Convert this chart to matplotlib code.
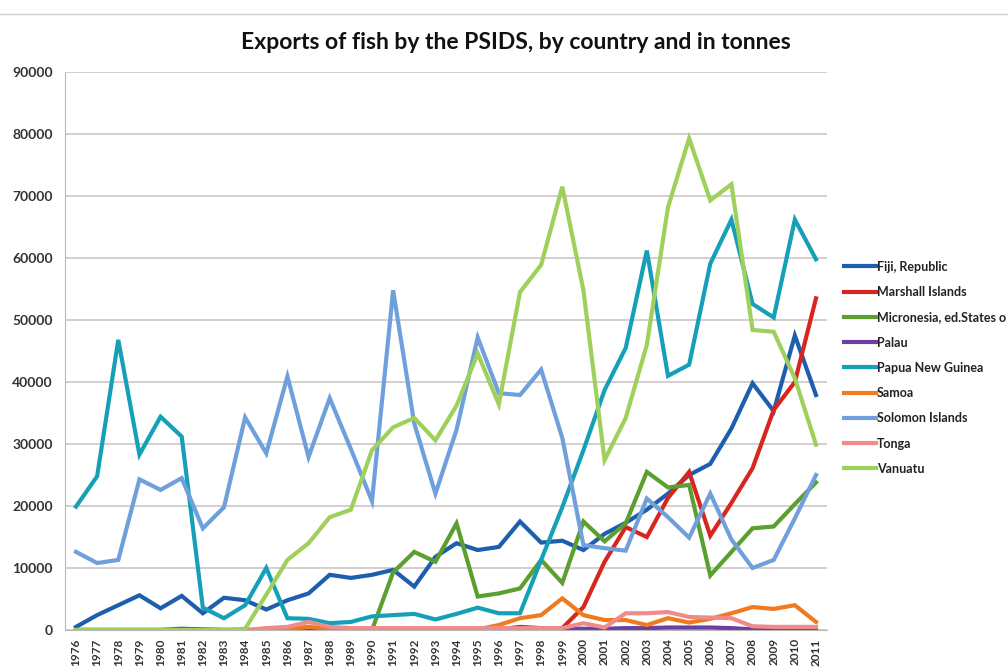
import matplotlib.pyplot as plt
from matplotlib.lines import Line2D

plt.rcParams['font.family'] = ['Lato', 'DejaVu Sans']

years = list(range(1976, 2012))

fiji = [500, 2400, 4000, 5600, 3500, 5500, 2700, 5200, 4800, 3300, 4800, 5900,
        8900, 8400, 8900, 9700, 7000, 11800, 14000, 12900, 13400, 17500, 14100, 14400,
        12900, 15500, 17300, 19400, 22000, 25000, 26800, 32500, 39800, 35300, 47500, 37900]
marshall = [0, 0, 0, 0, 0, 0, 0, 0, 0, 0, 0, 0,
            0, 0, 0, 0, 0, 0, 0, 0, 0, 0, 0, 300,
            3700, 11000, 16600, 15000, 21300, 25500, 15200, 20500, 26100, 35500, 40000, 53500]
micronesia = [0, 0, 0, 0, 0, 0, 0, 0, 0, 0, 0, 0,
              0, 0, 0, 9300, 12600, 11000, 17200, 5400, 5900, 6700, 11300, 7600,
              17500, 14300, 17200, 25500, 23000, 23400, 8800, 12600, 16400, 16700, 20300, 23800]
palau = [0, 0, 0, 0, 0, 200, 100, 0, 0, 0, 0, 0,
         0, 0, 0, 0, 0, 0, 0, 0, 100, 500, 300, 200,
         200, 200, 300, 300, 400, 400, 400, 300, 100, 100, 100, 100]
png = [19900, 24800, 46800, 28300, 34400, 31200, 3600, 1900, 4000, 10000, 1900, 1800,
       1100, 1300, 2200, 2400, 2600, 1700, 2600, 3600, 2700, 2700, 11300, 19800,
       29000, 38700, 45500, 61200, 41000, 42800, 59100, 66200, 52600, 50400, 66200, 59800]
samoa = [0, 0, 0, 0, 0, 0, 0, 0, 0, 0, 200, 500,
         200, 100, 100, 100, 100, 100, 100, 100, 800, 1900, 2400, 5100,
         2400, 1600, 1600, 800, 1900, 1200, 1800, 2700, 3700, 3400, 4000, 1300]
solomon = [12600, 10800, 11300, 24300, 22600, 24500, 16400, 19800, 34300, 28500, 40900, 27900,
           37400, 29200, 20800, 54800, 33300, 22000, 32300, 47200, 38200, 37900, 42000, 31000,
           13700, 13200, 12800, 21200, 18200, 14900, 22000, 14600, 10000, 11300, 18000, 25000]
tonga = [0, 0, 0, 0, 0, 0, 0, 0, 0, 300, 500, 1300,
         500, 300, 300, 300, 300, 300, 300, 300, 300, 300, 300, 300,
         1100, 400, 2700, 2700, 2900, 2100, 2000, 1900, 600, 500, 500, 500]
vanuatu = [0, 0, 0, 0, 0, 0, 0, 0, 200, 5700, 11300, 14000,
           18200, 19400, 29000, 32700, 34200, 30600, 36200, 44600, 36400, 54500, 58900, 71500,
           54800, 27400, 34200, 46000, 68200, 79300, 69300, 71900, 48400, 48100, 40600, 29900]

series = [
    ("Fiji, Republic", fiji, "#1d5fae"),
    ("Marshall Islands", marshall, "#d7261e"),
    ("Micronesia, ed.States o", micronesia, "#5b9f2e"),
    ("Palau", palau, "#6a3fa0"),
    ("Papua New Guinea", png, "#16a0b8"),
    ("Samoa", samoa, "#f07a1f"),
    ("Solomon Islands", solomon, "#6fa0db"),
    ("Tonga", tonga, "#ef8b8b"),
    ("Vanuatu", vanuatu, "#9fd05c"),
]

fig = plt.figure(figsize=(10.08, 6.69), dpi=100)
ax = fig.add_axes([0.0649, 0.0583, 0.7551, 0.834])

x = list(range(len(years)))
for name, vals, color in series:
    ax.plot(x, vals, color=color, linewidth=3.0, label=name, solid_joinstyle='miter')

ax.set_xlim(-0.5, len(years) - 0.5)
ax.set_ylim(0, 90000)
ax.set_yticks(range(0, 90001, 10000))
ax.set_yticklabels([str(v) for v in range(0, 90001, 10000)], fontsize=10, fontweight='bold', color='#333333')
ax.set_xticks(x)
ax.set_xticklabels([str(y) for y in years], rotation=90, fontsize=8.5, fontweight='bold', color='#333333')
ax.tick_params(axis='both', length=0)
ax.tick_params(axis='y', pad=9)
ax.tick_params(axis='x', pad=6)
ax.grid(axis='y', color='#c9c1c1', linewidth=1.1)
ax.set_axisbelow(True)
for side in ['top', 'right']:
    ax.spines[side].set_visible(False)
ax.spines['left'].set_color('#b8b8b8')
ax.spines['bottom'].set_color('#b8b8b8')

fig.text(0.512, 0.936, "Exports of fish by the PSIDS, by country and in tonnes",
         ha='center', va='center', fontsize=16.5, fontweight='bold', color='#111111')

fig.add_artist(Line2D([0, 1], [0.979, 0.979], color='#d0d0d0', linewidth=1))

leg = fig.legend(loc='upper left', bbox_to_anchor=(0.826, 0.627), frameon=False,
                 handlelength=2.6, handletextpad=0.05, labelspacing=1.06,
                 prop={'weight': 'bold', 'size': 9})
for t in leg.get_texts():
    t.set_color('#222222')
for h in leg.get_lines():
    h.set_linewidth(3.0)

fig.savefig("out.png", dpi=100)
